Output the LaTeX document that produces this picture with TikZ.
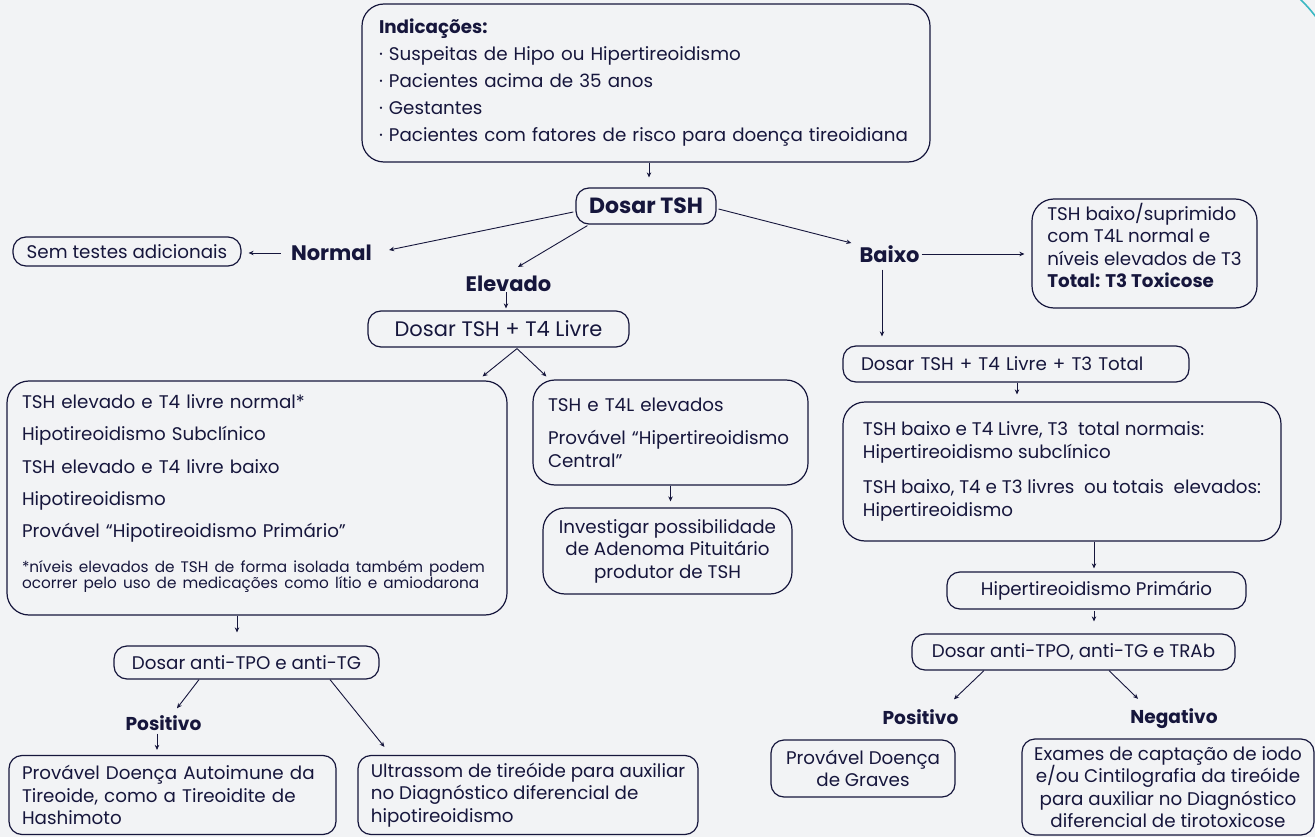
\documentclass[tikz,border=0pt]{standalone}
\usepackage{fontspec}
\setmainfont{Poppins}
\usetikzlibrary{arrows.meta,calc}
\definecolor{bgc}{HTML}{F2F3F5}
\definecolor{ink}{HTML}{16163C}
\definecolor{tealc}{HTML}{3BB8C3}
\begin{document}
\begin{tikzpicture}[x=1pt,y=-1pt,
  box/.style={draw=ink,line width=1.2pt,rounded corners=13pt,inner sep=0pt,text=ink,
    font=\fontsize{18.3}{22.5}\selectfont},
  bigbox/.style={box,rounded corners=22pt},
  lbl/.style={font=\fontsize{21}{24}\selectfont\bfseries,text=ink,inner sep=0pt},
  slbl/.style={lbl,font=\fontsize{18.6}{22}\selectfont\bfseries},
  arr/.style={draw=ink,line width=0.9pt,-{Stealth[length=5pt,width=4.5pt]}}]
\fill[bgc] (0,0) rectangle (1315,837);
\useasboundingbox (0,0) rectangle (1315,837);
\draw[tealc,line width=1.6pt] (1300,-1) to[bend left=4] (1316,17);

% top
\node[bigbox,minimum width=568pt,minimum height=158pt,text width=534pt,align=left,
  font=\fontsize{18.3}{27}\selectfont] (ind) at (646,83)
  {{\bfseries Indicações:}\\· Suspeitas de Hipo ou Hipertireoidismo\\· Pacientes acima de 35 anos\\· Gestantes\\· Pacientes com fatores de risco para doença tireoidiana};
\node[box,minimum width=140pt,minimum height=36pt,font=\fontsize{22}{24}\selectfont\bfseries] (tsh) at (646,206) {Dosar TSH};

\node[lbl] (normal) at (331.5,253) {Normal};
\node[box,minimum width=228pt,minimum height=29pt] (sem) at (127,251.5) {Sem testes adicionais};
\node[lbl] (elevado) at (508.5,284) {Elevado};
\node[lbl] (baixo) at (889.5,254) {Baixo};
\node[bigbox,minimum width=225pt,minimum height=109pt,align=left] (t3tox) at (1144.5,253.5)
  {TSH baixo/suprimido\\com T4L normal e\\níveis elevados de T3\\{\bfseries Total: T3 Toxicose}\\[-6pt]};

% left branch
\node[box,minimum width=261pt,minimum height=36pt,font=\fontsize{21}{24}\selectfont] (dt4) at (498.5,329) {Dosar TSH + T4 Livre};
\node[bigbox,minimum width=500pt,minimum height=234pt,text width=470pt,align=left] (lbox) at (257,498)
  {\fontsize{18.3}{32.2}\selectfont TSH elevado e T4 livre normal*\\Hipotireoidismo Subclínico\\TSH elevado e T4 livre baixo\\Hipotireoidismo\\Provável “Hipotireoidismo Primário”\par
   \vspace{17pt}{\fontsize{15.3}{16}\selectfont *níveis elevados de TSH de forma isolada também podem\\ocorrer pelo uso de medicações como lítio e amiodarona\par}\vspace{9pt}};
\node[bigbox,minimum width=275pt,minimum height=105pt,text width=245pt,align=left] (mbox) at (670.5,432.5)
  {TSH e T4L elevados\\[11pt]Provável “Hipertireoidismo\\Central”};
\node[bigbox,minimum width=249pt,minimum height=86pt,align=center] (inv) at (667.5,551)
  {Investigar possibilidade\\de Adenoma Pituitário\\produtor de TSH};
\node[box,minimum width=265pt,minimum height=33pt] (antitpo) at (246.5,662.5) {Dosar anti-TPO e anti-TG};
\node[slbl] (pos1) at (163.5,723) {Positivo};
\node[box,minimum width=327pt,minimum height=79pt,text width=301pt,align=left] (dai) at (172.5,795)
  {Provável Doença Autoimune da\\Tireoide, como a Tireoidite de\\Hashimoto};
\node[box,minimum width=340pt,minimum height=79pt,align=left] (ultra) at (528,795)
  {Ultrassom de tireóide para auxiliar\\no Diagnóstico diferencial de\\hipotireoidismo};

% right branch
\node[box,minimum width=346pt,minimum height=36pt,text width=310pt,align=left] (dt3) at (1016,364) {Dosar TSH + T4 Livre + T3 Total};
\node[bigbox,minimum width=438pt,minimum height=139pt,align=left] (rbox) at (1062,471.5)
  {TSH baixo e T4 Livre, T3\ \ total normais:\\Hipertireoidismo subclínico\\[13pt]TSH baixo, T4 e T3 livres\ \ ou totais\ \ elevados:\\Hipertireoidismo};
\node[box,minimum width=299pt,minimum height=37pt] (hp) at (1096.5,590.5) {Hipertireoidismo Primário};
\node[box,minimum width=323pt,minimum height=36pt] (dtrab) at (1073.5,652) {Dosar anti-TPO, anti-TG e TRAb};
\node[slbl] (pos2) at (920.5,717) {Positivo};
\node[slbl] (neg) at (1174,719) {Negativo};
\node[box,minimum width=184pt,minimum height=57pt,align=center] (graves) at (863,768.5) {Provável Doença\\de Graves};
\node[box,minimum width=292pt,minimum height=96pt,align=center] (exames) at (1168,787)
  {Exames de captação de iodo\\e/ou Cintilografia da tireóide\\para auxiliar no Diagnóstico\\diferencial de tirotoxicose};

% connectors
\draw[arr] ($(ind.south)+(3,0)$) -- ($(tsh.north)+(3,-10)$);
\draw[arr] ($(tsh.west)+(-2,6)$) -- ($(normal.east)+(17,-3)$);
\draw[arr] ($(normal.west)+(-10,0)$) -- ($(normal.west -| sem.east)+(7,0)$);
\draw[arr] ($(tsh.south west)+(12,1)$) -- ($(elevado.north)+(9.5,-9)$);
\draw[arr] ($(tsh.east)+(2,3)$) -- ($(baixo.west)+(-8,-11)$);
\draw[arr] ($(baixo.east)+(2,0)$) -- ($(baixo.east -| t3tox.west)+(-7,0)$);
\draw[arr] ($(baixo.south)+(-7.5,7)$) -- ($(dt3.north)+(-134,-9)$);
\draw[arr] ($(elevado.south)+(-2.5,0)$) -- ($(dt4.north)+(7.5,-2)$);
\draw[arr] ($(dt4.south)+(18.5,1)$) -- ($(lbox.north east)+(-25,-4)$);
\draw[arr] ($(dt4.south)+(18.5,1)$) -- ($(mbox.north west)+(14,-3)$);
\draw[arr] (mbox.south) -- ($(inv.north)+(3,-6)$);
\draw[arr] ($(lbox.south)+(-20,0)$) -- ($(antitpo.north)+(-9.5,-13)$);
\draw[arr] ($(antitpo.south)+(-47.5,0)$) -- ($(pos1.north)+(13.5,-7)$);
\draw[arr] ($(pos1.south)+(-6.5,3)$) -- ($(dai.north)+(-15.5,-5)$);
\draw[arr] ($(antitpo.south)+(83.5,0)$) -- ($(ultra.north west)+(27,-8)$);
\draw[arr] ($(dt3.south)+(1,0)$) -- ($(rbox.north)+(-45,-7)$);
\draw[arr] ($(rbox.south)+(32,0)$) -- ($(hp.north)+(-2.5,-3)$);
\draw[arr] ($(hp.south)+(-2.5,1)$) -- ($(dtrab.north)+(20.5,-12)$);
\draw[arr] ($(dtrab.south)+(-89.5,0)$) -- ($(pos2.north)+(33.5,-10)$);
\draw[arr] ($(dtrab.south)+(35.5,0)$) -- ($(neg.north)+(-36,-10)$);
\end{tikzpicture}
\end{document}
